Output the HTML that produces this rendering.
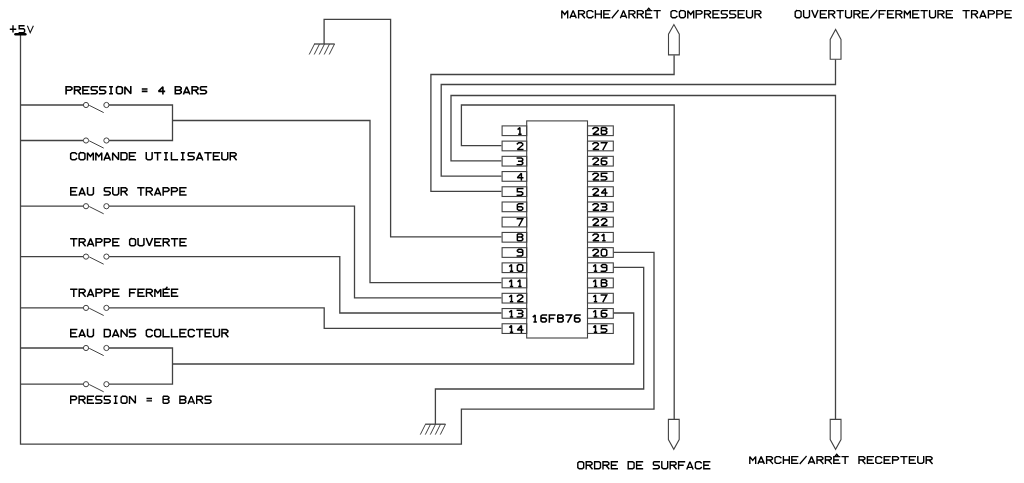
<!DOCTYPE html>
<html><head><meta charset="utf-8"><title>Schema 16F876</title>
<style>
html,body{margin:0;padding:0;background:#fff;}
body{width:1024px;height:483px;overflow:hidden;font-family:"Liberation Sans",sans-serif;}
svg{display:block;}
</style></head><body>
<svg width="1024" height="483" viewBox="0 0 1024 483">
<rect width="1024" height="483" fill="#fff"/>
<polyline points="20.5,34 20.5,444.1 461.4,444.1 461.4,409.2 654,409.2 654,252.3 613.5,252.3" fill="none" stroke="#424242" stroke-width="1.3"/>
<rect x="14.2" y="33.0" width="12.4" height="2.5" rx="1.25" fill="#000"/>
<polyline points="20.5,105 83.4,105" fill="none" stroke="#424242" stroke-width="1.3"/>
<circle cx="86.0" cy="105" r="2.6" fill="none" stroke="#424242" stroke-width="1"/>
<circle cx="106.4" cy="105" r="2.6" fill="none" stroke="#424242" stroke-width="1"/>
<polyline points="89.2,105.3 103.7,112.6" fill="none" stroke="#424242" stroke-width="1.0"/>
<polyline points="20.5,140.5 83.4,140.5" fill="none" stroke="#424242" stroke-width="1.3"/>
<circle cx="86.0" cy="140.5" r="2.6" fill="none" stroke="#424242" stroke-width="1"/>
<circle cx="106.4" cy="140.5" r="2.6" fill="none" stroke="#424242" stroke-width="1"/>
<polyline points="89.2,140.8 103.7,148.1" fill="none" stroke="#424242" stroke-width="1.0"/>
<polyline points="20.5,206.2 83.4,206.2" fill="none" stroke="#424242" stroke-width="1.3"/>
<circle cx="86.0" cy="206.2" r="2.6" fill="none" stroke="#424242" stroke-width="1"/>
<circle cx="106.4" cy="206.2" r="2.6" fill="none" stroke="#424242" stroke-width="1"/>
<polyline points="89.2,206.5 103.7,213.79999999999998" fill="none" stroke="#424242" stroke-width="1.0"/>
<polyline points="20.5,256.6 83.4,256.6" fill="none" stroke="#424242" stroke-width="1.3"/>
<circle cx="86.0" cy="256.6" r="2.6" fill="none" stroke="#424242" stroke-width="1"/>
<circle cx="106.4" cy="256.6" r="2.6" fill="none" stroke="#424242" stroke-width="1"/>
<polyline points="89.2,256.90000000000003 103.7,264.20000000000005" fill="none" stroke="#424242" stroke-width="1.0"/>
<polyline points="20.5,307.9 83.4,307.9" fill="none" stroke="#424242" stroke-width="1.3"/>
<circle cx="86.0" cy="307.9" r="2.6" fill="none" stroke="#424242" stroke-width="1"/>
<circle cx="106.4" cy="307.9" r="2.6" fill="none" stroke="#424242" stroke-width="1"/>
<polyline points="89.2,308.2 103.7,315.5" fill="none" stroke="#424242" stroke-width="1.0"/>
<polyline points="20.5,348 83.4,348" fill="none" stroke="#424242" stroke-width="1.3"/>
<circle cx="86.0" cy="348" r="2.6" fill="none" stroke="#424242" stroke-width="1"/>
<circle cx="106.4" cy="348" r="2.6" fill="none" stroke="#424242" stroke-width="1"/>
<polyline points="89.2,348.3 103.7,355.6" fill="none" stroke="#424242" stroke-width="1.0"/>
<polyline points="20.5,384.2 83.4,384.2" fill="none" stroke="#424242" stroke-width="1.3"/>
<circle cx="86.0" cy="384.2" r="2.6" fill="none" stroke="#424242" stroke-width="1"/>
<circle cx="106.4" cy="384.2" r="2.6" fill="none" stroke="#424242" stroke-width="1"/>
<polyline points="89.2,384.5 103.7,391.8" fill="none" stroke="#424242" stroke-width="1.0"/>
<polyline points="109.0,105 172.5,105 172.5,140.5 109.0,140.5" fill="none" stroke="#424242" stroke-width="1.3"/>
<polyline points="172.5,120.5 370.0,120.5 370.0,282.6 501.5,282.6" fill="none" stroke="#424242" stroke-width="1.3"/>
<polyline points="109.0,206.2 354.5,206.2 354.5,297.8 501.5,297.8" fill="none" stroke="#424242" stroke-width="1.3"/>
<polyline points="109.0,256.6 339.8,256.6 339.8,313.0 501.5,313.0" fill="none" stroke="#424242" stroke-width="1.3"/>
<polyline points="109.0,307.9 324.2,307.9 324.2,328.3 501.5,328.3" fill="none" stroke="#424242" stroke-width="1.3"/>
<polyline points="109.0,348 172.5,348 172.5,384.2 109.0,384.2" fill="none" stroke="#424242" stroke-width="1.3"/>
<polyline points="172.5,364 633.7,364 633.7,313.0 613.5,313.0" fill="none" stroke="#424242" stroke-width="1.3"/>
<polyline points="324.1,44 324.1,19.3 390.6,19.3 390.6,236.9 501.5,236.9" fill="none" stroke="#424242" stroke-width="1.3"/>
<polyline points="314,44 334.7,44" fill="none" stroke="#424242" stroke-width="1.3"/>
<polyline points="314.5,44 309.2,54.5" fill="none" stroke="#424242" stroke-width="1.0"/>
<polyline points="319.5,44 314.2,54.5" fill="none" stroke="#424242" stroke-width="1.0"/>
<polyline points="324.5,44 319.2,54.5" fill="none" stroke="#424242" stroke-width="1.0"/>
<polyline points="329.5,44 324.2,54.5" fill="none" stroke="#424242" stroke-width="1.0"/>
<polyline points="334.5,44 329.2,54.5" fill="none" stroke="#424242" stroke-width="1.0"/>
<polyline points="435.4,424.2 435.4,389 643.7,389 643.7,267.4 613.5,267.4" fill="none" stroke="#424242" stroke-width="1.3"/>
<polyline points="425.2,424.2 445.5,424.2" fill="none" stroke="#424242" stroke-width="1.3"/>
<polyline points="425.5,424.2 420.3,434.6" fill="none" stroke="#424242" stroke-width="1.0"/>
<polyline points="430.5,424.2 425.3,434.6" fill="none" stroke="#424242" stroke-width="1.0"/>
<polyline points="435.5,424.2 430.3,434.6" fill="none" stroke="#424242" stroke-width="1.0"/>
<polyline points="440.5,424.2 435.3,434.6" fill="none" stroke="#424242" stroke-width="1.0"/>
<polyline points="445.5,424.2 440.3,434.6" fill="none" stroke="#424242" stroke-width="1.0"/>
<polyline points="501.5,145.6 461.4,145.6 461.4,105 674.2,105 674.2,419.2" fill="none" stroke="#424242" stroke-width="1.3"/>
<polyline points="501.5,160.8 451,160.8 451,95.5 835.5,95.5 835.5,419.2" fill="none" stroke="#424242" stroke-width="1.3"/>
<polyline points="501.5,176.1 441.2,176.1 441.2,84.5 835.5,84.5 835.5,59.4" fill="none" stroke="#424242" stroke-width="1.3"/>
<polyline points="501.5,191.3 430.9,191.3 430.9,74.5 674.1,74.5 674.1,55.2" fill="none" stroke="#424242" stroke-width="1.3"/>
<polygon points="668.50,54.90 668.50,34.20 673.90,24.60 679.30,34.20 679.30,54.90" fill="none" stroke="#424242" stroke-width="1.1"/>
<polygon points="830.20,59.20 830.20,39.40 835.60,29.40 841.00,39.40 841.00,59.20" fill="none" stroke="#424242" stroke-width="1.1"/>
<polygon points="668.40,419.40 668.40,439.60 673.80,449.30 679.20,439.60 679.20,419.40" fill="none" stroke="#424242" stroke-width="1.1"/>
<polygon points="830.20,419.40 830.20,439.60 835.60,449.30 841.00,439.60 841.00,419.40" fill="none" stroke="#424242" stroke-width="1.1"/>
<rect x="526.7" y="120.9" width="60.8" height="217.1" fill="none" stroke="#424242" stroke-width="1.1"/>
<rect x="502.1" y="125.90" width="24.6" height="9.7" fill="none" stroke="#424242" stroke-width="1.1"/>
<rect x="587.5" y="125.90" width="25.8" height="9.7" fill="none" stroke="#424242" stroke-width="1.1"/>
<path d="M518.16,129.12 L519.92,127.55 L519.92,134.27 M518.97,134.27 L520.86,134.27" fill="none" stroke="#000" stroke-width="1.5" stroke-linejoin="miter" stroke-miterlimit="2" stroke-linecap="square"/>
<path d="M592.95,128.67 L594.30,127.55 L597.00,127.55 L598.35,128.67 L598.35,129.79 L592.95,134.27 L598.35,134.27 M602.02,127.55 L605.40,127.55 L606.75,128.67 L606.75,129.45 L605.40,130.57 L601.35,130.57 M605.40,130.57 L606.75,131.69 L606.75,133.15 L605.40,134.27 L602.02,134.27 L601.35,133.71 L601.35,128.11 L602.02,127.55" fill="none" stroke="#000" stroke-width="1.5" stroke-linejoin="miter" stroke-miterlimit="2" stroke-linecap="square"/>
<rect x="502.1" y="141.12" width="24.6" height="9.7" fill="none" stroke="#424242" stroke-width="1.1"/>
<rect x="587.5" y="141.12" width="25.8" height="9.7" fill="none" stroke="#424242" stroke-width="1.1"/>
<path d="M517.35,143.89 L518.70,142.77 L521.40,142.77 L522.75,143.89 L522.75,145.01 L517.35,149.49 L522.75,149.49" fill="none" stroke="#000" stroke-width="1.5" stroke-linejoin="miter" stroke-miterlimit="2" stroke-linecap="square"/>
<path d="M592.95,143.89 L594.30,142.77 L597.00,142.77 L598.35,143.89 L598.35,145.01 L592.95,149.49 L598.35,149.49 M601.35,142.77 L606.75,142.77 L603.11,149.49" fill="none" stroke="#000" stroke-width="1.5" stroke-linejoin="miter" stroke-miterlimit="2" stroke-linecap="square"/>
<rect x="502.1" y="156.34" width="24.6" height="9.7" fill="none" stroke="#424242" stroke-width="1.1"/>
<rect x="587.5" y="156.34" width="25.8" height="9.7" fill="none" stroke="#424242" stroke-width="1.1"/>
<path d="M517.35,157.99 L521.40,157.99 L522.75,159.11 L522.75,160.23 L521.40,161.35 L522.75,162.47 L522.75,163.59 L521.40,164.71 L517.35,164.71 M518.70,161.35 L521.40,161.35" fill="none" stroke="#000" stroke-width="1.5" stroke-linejoin="miter" stroke-miterlimit="2" stroke-linecap="square"/>
<path d="M592.95,159.11 L594.30,157.99 L597.00,157.99 L598.35,159.11 L598.35,160.23 L592.95,164.71 L598.35,164.71 M606.75,157.99 L602.70,157.99 L601.35,159.11 L601.35,163.59 L602.70,164.71 L605.40,164.71 L606.75,163.59 L606.75,162.13 L605.40,161.01 L601.35,161.01" fill="none" stroke="#000" stroke-width="1.5" stroke-linejoin="miter" stroke-miterlimit="2" stroke-linecap="square"/>
<rect x="502.1" y="171.56" width="24.6" height="9.7" fill="none" stroke="#424242" stroke-width="1.1"/>
<rect x="587.5" y="171.56" width="25.8" height="9.7" fill="none" stroke="#424242" stroke-width="1.1"/>
<path d="M521.40,179.93 L521.40,173.21 L517.35,177.69 L522.75,177.69" fill="none" stroke="#000" stroke-width="1.5" stroke-linejoin="miter" stroke-miterlimit="2" stroke-linecap="square"/>
<path d="M592.95,174.33 L594.30,173.21 L597.00,173.21 L598.35,174.33 L598.35,175.45 L592.95,179.93 L598.35,179.93 M606.75,173.21 L601.35,173.21 L601.35,176.57 L605.40,176.57 L606.75,177.69 L606.75,178.81 L605.40,179.93 L601.35,179.93" fill="none" stroke="#000" stroke-width="1.5" stroke-linejoin="miter" stroke-miterlimit="2" stroke-linecap="square"/>
<rect x="502.1" y="186.78" width="24.6" height="9.7" fill="none" stroke="#424242" stroke-width="1.1"/>
<rect x="587.5" y="186.78" width="25.8" height="9.7" fill="none" stroke="#424242" stroke-width="1.1"/>
<path d="M522.75,188.43 L517.35,188.43 L517.35,191.79 L521.40,191.79 L522.75,192.91 L522.75,194.03 L521.40,195.15 L517.35,195.15" fill="none" stroke="#000" stroke-width="1.5" stroke-linejoin="miter" stroke-miterlimit="2" stroke-linecap="square"/>
<path d="M592.95,189.55 L594.30,188.43 L597.00,188.43 L598.35,189.55 L598.35,190.67 L592.95,195.15 L598.35,195.15 M605.40,195.15 L605.40,188.43 L601.35,192.91 L606.75,192.91" fill="none" stroke="#000" stroke-width="1.5" stroke-linejoin="miter" stroke-miterlimit="2" stroke-linecap="square"/>
<rect x="502.1" y="202.00" width="24.6" height="9.7" fill="none" stroke="#424242" stroke-width="1.1"/>
<rect x="587.5" y="202.00" width="25.8" height="9.7" fill="none" stroke="#424242" stroke-width="1.1"/>
<path d="M522.75,203.65 L518.70,203.65 L517.35,204.77 L517.35,209.25 L518.70,210.37 L521.40,210.37 L522.75,209.25 L522.75,207.79 L521.40,206.67 L517.35,206.67" fill="none" stroke="#000" stroke-width="1.5" stroke-linejoin="miter" stroke-miterlimit="2" stroke-linecap="square"/>
<path d="M592.95,204.77 L594.30,203.65 L597.00,203.65 L598.35,204.77 L598.35,205.89 L592.95,210.37 L598.35,210.37 M601.35,203.65 L605.40,203.65 L606.75,204.77 L606.75,205.89 L605.40,207.01 L606.75,208.13 L606.75,209.25 L605.40,210.37 L601.35,210.37 M602.70,207.01 L605.40,207.01" fill="none" stroke="#000" stroke-width="1.5" stroke-linejoin="miter" stroke-miterlimit="2" stroke-linecap="square"/>
<rect x="502.1" y="217.22" width="24.6" height="9.7" fill="none" stroke="#424242" stroke-width="1.1"/>
<rect x="587.5" y="217.22" width="25.8" height="9.7" fill="none" stroke="#424242" stroke-width="1.1"/>
<path d="M517.35,218.87 L522.75,218.87 L519.11,225.59" fill="none" stroke="#000" stroke-width="1.5" stroke-linejoin="miter" stroke-miterlimit="2" stroke-linecap="square"/>
<path d="M592.95,219.99 L594.30,218.87 L597.00,218.87 L598.35,219.99 L598.35,221.11 L592.95,225.59 L598.35,225.59 M601.35,219.99 L602.70,218.87 L605.40,218.87 L606.75,219.99 L606.75,221.11 L601.35,225.59 L606.75,225.59" fill="none" stroke="#000" stroke-width="1.5" stroke-linejoin="miter" stroke-miterlimit="2" stroke-linecap="square"/>
<rect x="502.1" y="232.44" width="24.6" height="9.7" fill="none" stroke="#424242" stroke-width="1.1"/>
<rect x="587.5" y="232.44" width="25.8" height="9.7" fill="none" stroke="#424242" stroke-width="1.1"/>
<path d="M518.02,234.09 L521.40,234.09 L522.75,235.21 L522.75,235.99 L521.40,237.11 L517.35,237.11 M521.40,237.11 L522.75,238.23 L522.75,239.69 L521.40,240.81 L518.02,240.81 L517.35,240.25 L517.35,234.65 L518.02,234.09" fill="none" stroke="#000" stroke-width="1.5" stroke-linejoin="miter" stroke-miterlimit="2" stroke-linecap="square"/>
<path d="M592.95,235.21 L594.30,234.09 L597.00,234.09 L598.35,235.21 L598.35,236.33 L592.95,240.81 L598.35,240.81 M602.16,235.66 L603.92,234.09 L603.92,240.81 M602.97,240.81 L604.86,240.81" fill="none" stroke="#000" stroke-width="1.5" stroke-linejoin="miter" stroke-miterlimit="2" stroke-linecap="square"/>
<rect x="502.1" y="247.66" width="24.6" height="9.7" fill="none" stroke="#424242" stroke-width="1.1"/>
<rect x="587.5" y="247.66" width="25.8" height="9.7" fill="none" stroke="#424242" stroke-width="1.1"/>
<path d="M522.75,252.33 L518.70,252.33 L517.35,251.21 L517.35,250.43 L518.70,249.31 L521.40,249.31 L522.75,250.43 L522.75,254.91 L521.40,256.03 L517.35,256.03" fill="none" stroke="#000" stroke-width="1.5" stroke-linejoin="miter" stroke-miterlimit="2" stroke-linecap="square"/>
<path d="M592.95,250.43 L594.30,249.31 L597.00,249.31 L598.35,250.43 L598.35,251.55 L592.95,256.03 L598.35,256.03 M602.70,249.31 L605.40,249.31 L606.75,250.43 L606.75,254.91 L605.40,256.03 L602.70,256.03 L601.35,254.91 L601.35,250.43 L602.70,249.31" fill="none" stroke="#000" stroke-width="1.5" stroke-linejoin="miter" stroke-miterlimit="2" stroke-linecap="square"/>
<rect x="502.1" y="262.88" width="24.6" height="9.7" fill="none" stroke="#424242" stroke-width="1.1"/>
<rect x="587.5" y="262.88" width="25.8" height="9.7" fill="none" stroke="#424242" stroke-width="1.1"/>
<path d="M509.76,266.10 L511.51,264.53 L511.51,271.25 M510.57,271.25 L512.46,271.25 M518.70,264.53 L521.40,264.53 L522.75,265.65 L522.75,270.13 L521.40,271.25 L518.70,271.25 L517.35,270.13 L517.35,265.65 L518.70,264.53" fill="none" stroke="#000" stroke-width="1.5" stroke-linejoin="miter" stroke-miterlimit="2" stroke-linecap="square"/>
<path d="M593.76,266.10 L595.52,264.53 L595.52,271.25 M594.57,271.25 L596.46,271.25 M606.75,267.55 L602.70,267.55 L601.35,266.43 L601.35,265.65 L602.70,264.53 L605.40,264.53 L606.75,265.65 L606.75,270.13 L605.40,271.25 L601.35,271.25" fill="none" stroke="#000" stroke-width="1.5" stroke-linejoin="miter" stroke-miterlimit="2" stroke-linecap="square"/>
<rect x="502.1" y="278.10" width="24.6" height="9.7" fill="none" stroke="#424242" stroke-width="1.1"/>
<rect x="587.5" y="278.10" width="25.8" height="9.7" fill="none" stroke="#424242" stroke-width="1.1"/>
<path d="M509.76,281.32 L511.51,279.75 L511.51,286.47 M510.57,286.47 L512.46,286.47 M518.16,281.32 L519.92,279.75 L519.92,286.47 M518.97,286.47 L520.86,286.47" fill="none" stroke="#000" stroke-width="1.5" stroke-linejoin="miter" stroke-miterlimit="2" stroke-linecap="square"/>
<path d="M593.76,281.32 L595.52,279.75 L595.52,286.47 M594.57,286.47 L596.46,286.47 M602.02,279.75 L605.40,279.75 L606.75,280.87 L606.75,281.65 L605.40,282.77 L601.35,282.77 M605.40,282.77 L606.75,283.89 L606.75,285.35 L605.40,286.47 L602.02,286.47 L601.35,285.91 L601.35,280.31 L602.02,279.75" fill="none" stroke="#000" stroke-width="1.5" stroke-linejoin="miter" stroke-miterlimit="2" stroke-linecap="square"/>
<rect x="502.1" y="293.32" width="24.6" height="9.7" fill="none" stroke="#424242" stroke-width="1.1"/>
<rect x="587.5" y="293.32" width="25.8" height="9.7" fill="none" stroke="#424242" stroke-width="1.1"/>
<path d="M509.76,296.54 L511.51,294.97 L511.51,301.69 M510.57,301.69 L512.46,301.69 M517.35,296.09 L518.70,294.97 L521.40,294.97 L522.75,296.09 L522.75,297.21 L517.35,301.69 L522.75,301.69" fill="none" stroke="#000" stroke-width="1.5" stroke-linejoin="miter" stroke-miterlimit="2" stroke-linecap="square"/>
<path d="M593.76,296.54 L595.52,294.97 L595.52,301.69 M594.57,301.69 L596.46,301.69 M601.35,294.97 L606.75,294.97 L603.11,301.69" fill="none" stroke="#000" stroke-width="1.5" stroke-linejoin="miter" stroke-miterlimit="2" stroke-linecap="square"/>
<rect x="502.1" y="308.54" width="24.6" height="9.7" fill="none" stroke="#424242" stroke-width="1.1"/>
<rect x="587.5" y="308.54" width="25.8" height="9.7" fill="none" stroke="#424242" stroke-width="1.1"/>
<path d="M509.76,311.76 L511.51,310.19 L511.51,316.91 M510.57,316.91 L512.46,316.91 M517.35,310.19 L521.40,310.19 L522.75,311.31 L522.75,312.43 L521.40,313.55 L522.75,314.67 L522.75,315.79 L521.40,316.91 L517.35,316.91 M518.70,313.55 L521.40,313.55" fill="none" stroke="#000" stroke-width="1.5" stroke-linejoin="miter" stroke-miterlimit="2" stroke-linecap="square"/>
<path d="M593.76,311.76 L595.52,310.19 L595.52,316.91 M594.57,316.91 L596.46,316.91 M606.75,310.19 L602.70,310.19 L601.35,311.31 L601.35,315.79 L602.70,316.91 L605.40,316.91 L606.75,315.79 L606.75,314.33 L605.40,313.21 L601.35,313.21" fill="none" stroke="#000" stroke-width="1.5" stroke-linejoin="miter" stroke-miterlimit="2" stroke-linecap="square"/>
<rect x="502.1" y="323.76" width="24.6" height="9.7" fill="none" stroke="#424242" stroke-width="1.1"/>
<rect x="587.5" y="323.76" width="25.8" height="9.7" fill="none" stroke="#424242" stroke-width="1.1"/>
<path d="M509.76,326.98 L511.51,325.41 L511.51,332.13 M510.57,332.13 L512.46,332.13 M521.40,332.13 L521.40,325.41 L517.35,329.89 L522.75,329.89" fill="none" stroke="#000" stroke-width="1.5" stroke-linejoin="miter" stroke-miterlimit="2" stroke-linecap="square"/>
<path d="M593.76,326.98 L595.52,325.41 L595.52,332.13 M594.57,332.13 L596.46,332.13 M606.75,325.41 L601.35,325.41 L601.35,328.77 L605.40,328.77 L606.75,329.89 L606.75,331.01 L605.40,332.13 L601.35,332.13" fill="none" stroke="#000" stroke-width="1.5" stroke-linejoin="miter" stroke-miterlimit="2" stroke-linecap="square"/>
<path d="M533.38,316.60 L535.14,314.97 L535.14,321.93 M534.19,321.93 L536.08,321.93 M546.37,314.97 L542.32,314.97 L540.97,316.13 L540.97,320.77 L542.32,321.93 L545.02,321.93 L546.37,320.77 L546.37,319.27 L545.02,318.11 L540.97,318.11 M554.77,314.97 L549.37,314.97 L549.37,321.93 M549.37,318.45 L553.42,318.45 M558.45,314.97 L561.82,314.97 L563.17,316.13 L563.17,316.95 L561.82,318.11 L557.77,318.11 M561.82,318.11 L563.17,319.27 L563.17,320.77 L561.82,321.93 L558.45,321.93 L557.77,321.35 L557.77,315.55 L558.45,314.97 M566.17,314.97 L571.57,314.97 L567.93,321.93 M579.97,314.97 L575.92,314.97 L574.57,316.13 L574.57,320.77 L575.92,321.93 L578.62,321.93 L579.97,320.77 L579.97,319.27 L578.62,318.11 L574.57,318.11" fill="none" stroke="#000" stroke-width="1.55" stroke-linejoin="miter" stroke-miterlimit="2" stroke-linecap="square"/>
<path d="M66.10,93.78 L66.10,86.70 L70.51,86.70 L71.98,87.88 L71.98,89.06 L70.51,90.24 L66.10,90.24 M74.50,93.78 L74.50,86.70 L78.91,86.70 L80.38,87.88 L80.38,89.06 L78.91,90.24 L74.50,90.24 M77.44,90.24 L80.38,93.78 M88.78,86.70 L82.90,86.70 L82.90,93.78 L88.78,93.78 M82.90,90.24 L87.31,90.24 M97.18,86.70 L92.03,86.70 L91.30,87.29 L91.30,89.53 L92.18,90.24 L95.71,90.24 L97.18,91.42 L97.18,92.60 L95.71,93.78 L91.30,93.78 M105.58,86.70 L100.43,86.70 L99.70,87.29 L99.70,89.53 L100.58,90.24 L104.11,90.24 L105.58,91.42 L105.58,92.60 L104.11,93.78 L99.70,93.78 M109.86,86.70 L112.22,86.70 M111.04,86.70 L111.04,93.78 M109.86,93.78 L112.22,93.78 M117.97,86.70 L120.91,86.70 L122.38,87.88 L122.38,92.60 L120.91,93.78 L117.97,93.78 L116.50,92.60 L116.50,87.88 L117.97,86.70 M124.90,93.78 L124.90,86.70 L130.78,93.78 L130.78,86.70 M142.58,89.06 L146.70,89.06 M142.58,91.42 L146.70,91.42 M162.91,93.78 L162.91,86.70 L158.50,91.42 L164.38,91.42 M175.30,86.70 L179.71,86.70 L181.18,87.88 L181.18,89.06 L179.71,90.24 L175.30,90.24 M179.71,90.24 L181.18,91.42 L181.18,92.60 L179.71,93.78 L175.30,93.78 L175.30,86.70 M183.70,93.78 L186.64,86.70 L189.58,93.78 M184.29,92.36 L188.99,92.36 M192.10,93.78 L192.10,86.70 L196.51,86.70 L197.98,87.88 L197.98,89.06 L196.51,90.24 L192.10,90.24 M195.04,90.24 L197.98,93.78 M206.38,86.70 L201.24,86.70 L200.50,87.29 L200.50,89.53 L201.38,90.24 L204.91,90.24 L206.38,91.42 L206.38,92.60 L204.91,93.78 L200.50,93.78" fill="none" stroke="#000" stroke-width="1.6" stroke-linejoin="miter" stroke-miterlimit="2" stroke-linecap="square"/>
<path d="M76.53,153.83 L75.06,152.65 L72.12,152.65 L70.65,153.83 L70.65,158.55 L72.12,159.73 L75.06,159.73 L76.53,158.55 M80.52,152.65 L83.46,152.65 L84.93,153.83 L84.93,158.55 L83.46,159.73 L80.52,159.73 L79.05,158.55 L79.05,153.83 L80.52,152.65 M87.45,159.73 L87.45,152.65 L90.39,156.54 L93.33,152.65 L93.33,159.73 M95.85,159.73 L95.85,152.65 L98.79,156.54 L101.73,152.65 L101.73,159.73 M104.25,159.73 L107.19,152.65 L110.13,159.73 M104.84,158.31 L109.54,158.31 M112.65,159.73 L112.65,152.65 L118.53,159.73 L118.53,152.65 M121.05,152.65 L125.46,152.65 L126.93,153.83 L126.93,158.55 L125.46,159.73 L121.05,159.73 L121.05,152.65 M135.33,152.65 L129.45,152.65 L129.45,159.73 L135.33,159.73 M129.45,156.19 L133.86,156.19 M146.25,152.65 L146.25,158.55 L147.72,159.73 L150.66,159.73 L152.13,158.55 L152.13,152.65 M154.65,152.65 L160.53,152.65 M157.59,152.65 L157.59,159.73 M164.81,152.65 L167.17,152.65 M165.99,152.65 L165.99,159.73 M164.81,159.73 L167.17,159.73 M171.45,152.65 L171.45,159.73 L177.33,159.73 M181.61,152.65 L183.97,152.65 M182.79,152.65 L182.79,159.73 M181.61,159.73 L183.97,159.73 M194.13,152.65 L188.99,152.65 L188.25,153.24 L188.25,155.48 L189.13,156.19 L192.66,156.19 L194.13,157.37 L194.13,158.55 L192.66,159.73 L188.25,159.73 M196.65,159.73 L199.59,152.65 L202.53,159.73 M197.24,158.31 L201.94,158.31 M205.05,152.65 L210.93,152.65 M207.99,152.65 L207.99,159.73 M219.33,152.65 L213.45,152.65 L213.45,159.73 L219.33,159.73 M213.45,156.19 L217.86,156.19 M221.85,152.65 L221.85,158.55 L223.32,159.73 L226.26,159.73 L227.73,158.55 L227.73,152.65 M230.25,159.73 L230.25,152.65 L234.66,152.65 L236.13,153.83 L236.13,155.01 L234.66,156.19 L230.25,156.19 M233.19,156.19 L236.13,159.73" fill="none" stroke="#000" stroke-width="1.5" stroke-linejoin="miter" stroke-miterlimit="2" stroke-linecap="square"/>
<path d="M76.63,187.85 L70.75,187.85 L70.75,194.93 L76.63,194.93 M70.75,191.39 L75.16,191.39 M79.15,194.93 L82.09,187.85 L85.03,194.93 M79.74,193.51 L84.44,193.51 M87.55,187.85 L87.55,193.75 L89.02,194.93 L91.96,194.93 L93.43,193.75 L93.43,187.85 M110.23,187.85 L105.08,187.85 L104.35,188.44 L104.35,190.68 L105.23,191.39 L108.76,191.39 L110.23,192.57 L110.23,193.75 L108.76,194.93 L104.35,194.93 M112.75,187.85 L112.75,193.75 L114.22,194.93 L117.16,194.93 L118.63,193.75 L118.63,187.85 M121.15,194.93 L121.15,187.85 L125.56,187.85 L127.03,189.03 L127.03,190.21 L125.56,191.39 L121.15,191.39 M124.09,191.39 L127.03,194.93 M137.95,187.85 L143.83,187.85 M140.89,187.85 L140.89,194.93 M146.35,194.93 L146.35,187.85 L150.76,187.85 L152.23,189.03 L152.23,190.21 L150.76,191.39 L146.35,191.39 M149.29,191.39 L152.23,194.93 M154.75,194.93 L157.69,187.85 L160.63,194.93 M155.34,193.51 L160.04,193.51 M163.15,194.93 L163.15,187.85 L167.56,187.85 L169.03,189.03 L169.03,190.21 L167.56,191.39 L163.15,191.39 M171.55,194.93 L171.55,187.85 L175.96,187.85 L177.43,189.03 L177.43,190.21 L175.96,191.39 L171.55,191.39 M185.83,187.85 L179.95,187.85 L179.95,194.93 L185.83,194.93 M179.95,191.39 L184.36,191.39" fill="none" stroke="#000" stroke-width="1.5" stroke-linejoin="miter" stroke-miterlimit="2" stroke-linecap="square"/>
<path d="M70.85,238.65 L76.73,238.65 M73.79,238.65 L73.79,245.73 M79.25,245.73 L79.25,238.65 L83.66,238.65 L85.13,239.83 L85.13,241.01 L83.66,242.19 L79.25,242.19 M82.19,242.19 L85.13,245.73 M87.65,245.73 L90.59,238.65 L93.53,245.73 M88.24,244.31 L92.94,244.31 M96.05,245.73 L96.05,238.65 L100.46,238.65 L101.93,239.83 L101.93,241.01 L100.46,242.19 L96.05,242.19 M104.45,245.73 L104.45,238.65 L108.86,238.65 L110.33,239.83 L110.33,241.01 L108.86,242.19 L104.45,242.19 M118.73,238.65 L112.85,238.65 L112.85,245.73 L118.73,245.73 M112.85,242.19 L117.26,242.19 M131.12,238.65 L134.06,238.65 L135.53,239.83 L135.53,244.55 L134.06,245.73 L131.12,245.73 L129.65,244.55 L129.65,239.83 L131.12,238.65 M138.05,238.65 L138.05,244.55 L139.52,245.73 L142.46,245.73 L143.93,244.55 L143.93,238.65 M146.45,238.65 L149.39,245.73 L152.33,238.65 M160.73,238.65 L154.85,238.65 L154.85,245.73 L160.73,245.73 M154.85,242.19 L159.26,242.19 M163.25,245.73 L163.25,238.65 L167.66,238.65 L169.13,239.83 L169.13,241.01 L167.66,242.19 L163.25,242.19 M166.19,242.19 L169.13,245.73 M171.65,238.65 L177.53,238.65 M174.59,238.65 L174.59,245.73 M185.93,238.65 L180.05,238.65 L180.05,245.73 L185.93,245.73 M180.05,242.19 L184.46,242.19" fill="none" stroke="#000" stroke-width="1.5" stroke-linejoin="miter" stroke-miterlimit="2" stroke-linecap="square"/>
<path d="M70.85,289.15 L76.73,289.15 M73.79,289.15 L73.79,296.23 M79.25,296.23 L79.25,289.15 L83.66,289.15 L85.13,290.33 L85.13,291.51 L83.66,292.69 L79.25,292.69 M82.19,292.69 L85.13,296.23 M87.65,296.23 L90.59,289.15 L93.53,296.23 M88.24,294.81 L92.94,294.81 M96.05,296.23 L96.05,289.15 L100.46,289.15 L101.93,290.33 L101.93,291.51 L100.46,292.69 L96.05,292.69 M104.45,296.23 L104.45,289.15 L108.86,289.15 L110.33,290.33 L110.33,291.51 L108.86,292.69 L104.45,292.69 M118.73,289.15 L112.85,289.15 L112.85,296.23 L118.73,296.23 M112.85,292.69 L117.26,292.69 M135.53,289.15 L129.65,289.15 L129.65,296.23 M129.65,292.69 L134.06,292.69 M143.93,289.15 L138.05,289.15 L138.05,296.23 L143.93,296.23 M138.05,292.69 L142.46,292.69 M146.45,296.23 L146.45,289.15 L150.86,289.15 L152.33,290.33 L152.33,291.51 L150.86,292.69 L146.45,292.69 M149.39,292.69 L152.33,296.23 M154.85,296.23 L154.85,289.15 L157.79,293.04 L160.73,289.15 L160.73,296.23 M169.13,289.15 L163.25,289.15 L163.25,296.23 L169.13,296.23 M163.25,292.69 L167.66,292.69 M166.04,288.44 L166.93,287.38 M177.53,289.15 L171.65,289.15 L171.65,296.23 L177.53,296.23 M171.65,292.69 L176.06,292.69" fill="none" stroke="#000" stroke-width="1.5" stroke-linejoin="miter" stroke-miterlimit="2" stroke-linecap="square"/>
<path d="M76.63,329.55 L70.75,329.55 L70.75,336.63 L76.63,336.63 M70.75,333.09 L75.16,333.09 M79.15,336.63 L82.09,329.55 L85.03,336.63 M79.74,335.21 L84.44,335.21 M87.55,329.55 L87.55,335.45 L89.02,336.63 L91.96,336.63 L93.43,335.45 L93.43,329.55 M104.35,329.55 L108.76,329.55 L110.23,330.73 L110.23,335.45 L108.76,336.63 L104.35,336.63 L104.35,329.55 M112.75,336.63 L115.69,329.55 L118.63,336.63 M113.34,335.21 L118.04,335.21 M121.15,336.63 L121.15,329.55 L127.03,336.63 L127.03,329.55 M135.43,329.55 L130.29,329.55 L129.55,330.14 L129.55,332.38 L130.43,333.09 L133.96,333.09 L135.43,334.27 L135.43,335.45 L133.96,336.63 L129.55,336.63 M152.23,330.73 L150.76,329.55 L147.82,329.55 L146.35,330.73 L146.35,335.45 L147.82,336.63 L150.76,336.63 L152.23,335.45 M156.22,329.55 L159.16,329.55 L160.63,330.73 L160.63,335.45 L159.16,336.63 L156.22,336.63 L154.75,335.45 L154.75,330.73 L156.22,329.55 M163.15,329.55 L163.15,336.63 L169.03,336.63 M171.55,329.55 L171.55,336.63 L177.43,336.63 M185.83,329.55 L179.95,329.55 L179.95,336.63 L185.83,336.63 M179.95,333.09 L184.36,333.09 M194.23,330.73 L192.76,329.55 L189.82,329.55 L188.35,330.73 L188.35,335.45 L189.82,336.63 L192.76,336.63 L194.23,335.45 M196.75,329.55 L202.63,329.55 M199.69,329.55 L199.69,336.63 M211.03,329.55 L205.15,329.55 L205.15,336.63 L211.03,336.63 M205.15,333.09 L209.56,333.09 M213.55,329.55 L213.55,335.45 L215.02,336.63 L217.96,336.63 L219.43,335.45 L219.43,329.55 M221.95,336.63 L221.95,329.55 L226.36,329.55 L227.83,330.73 L227.83,331.91 L226.36,333.09 L221.95,333.09 M224.89,333.09 L227.83,336.63" fill="none" stroke="#000" stroke-width="1.5" stroke-linejoin="miter" stroke-miterlimit="2" stroke-linecap="square"/>
<path d="M70.70,403.28 L70.70,396.20 L75.11,396.20 L76.58,397.38 L76.58,398.56 L75.11,399.74 L70.70,399.74 M79.10,403.28 L79.10,396.20 L83.51,396.20 L84.98,397.38 L84.98,398.56 L83.51,399.74 L79.10,399.74 M82.04,399.74 L84.98,403.28 M93.38,396.20 L87.50,396.20 L87.50,403.28 L93.38,403.28 M87.50,399.74 L91.91,399.74 M101.78,396.20 L96.64,396.20 L95.90,396.79 L95.90,399.03 L96.78,399.74 L100.31,399.74 L101.78,400.92 L101.78,402.10 L100.31,403.28 L95.90,403.28 M110.18,396.20 L105.04,396.20 L104.30,396.79 L104.30,399.03 L105.18,399.74 L108.71,399.74 L110.18,400.92 L110.18,402.10 L108.71,403.28 L104.30,403.28 M114.46,396.20 L116.82,396.20 M115.64,396.20 L115.64,403.28 M114.46,403.28 L116.82,403.28 M122.57,396.20 L125.51,396.20 L126.98,397.38 L126.98,402.10 L125.51,403.28 L122.57,403.28 L121.10,402.10 L121.10,397.38 L122.57,396.20 M129.50,403.28 L129.50,396.20 L135.38,403.28 L135.38,396.20 M147.18,398.56 L151.30,398.56 M147.18,400.92 L151.30,400.92 M163.84,396.20 L167.51,396.20 L168.98,397.38 L168.98,398.21 L167.51,399.39 L163.10,399.39 M167.51,399.39 L168.98,400.57 L168.98,402.10 L167.51,403.28 L163.84,403.28 L163.10,402.69 L163.10,396.79 L163.84,396.20 M179.90,396.20 L184.31,396.20 L185.78,397.38 L185.78,398.56 L184.31,399.74 L179.90,399.74 M184.31,399.74 L185.78,400.92 L185.78,402.10 L184.31,403.28 L179.90,403.28 L179.90,396.20 M188.30,403.28 L191.24,396.20 L194.18,403.28 M188.89,401.86 L193.59,401.86 M196.70,403.28 L196.70,396.20 L201.11,396.20 L202.58,397.38 L202.58,398.56 L201.11,399.74 L196.70,399.74 M199.64,399.74 L202.58,403.28 M210.98,396.20 L205.84,396.20 L205.10,396.79 L205.10,399.03 L205.98,399.74 L209.51,399.74 L210.98,400.92 L210.98,402.10 L209.51,403.28 L205.10,403.28" fill="none" stroke="#000" stroke-width="1.4" stroke-linejoin="miter" stroke-miterlimit="2" stroke-linecap="square"/>
<path d="M561.80,17.68 L561.80,10.60 L564.74,14.49 L567.68,10.60 L567.68,17.68 M570.20,17.68 L573.14,10.60 L576.08,17.68 M570.79,16.26 L575.49,16.26 M578.60,17.68 L578.60,10.60 L583.01,10.60 L584.48,11.78 L584.48,12.96 L583.01,14.14 L578.60,14.14 M581.54,14.14 L584.48,17.68 M592.88,11.78 L591.41,10.60 L588.47,10.60 L587.00,11.78 L587.00,16.50 L588.47,17.68 L591.41,17.68 L592.88,16.50 M595.40,10.60 L595.40,17.68 M601.28,10.60 L601.28,17.68 M595.40,14.14 L601.28,14.14 M609.68,10.60 L603.80,10.60 L603.80,17.68 L609.68,17.68 M603.80,14.14 L608.21,14.14 M612.20,17.68 L618.08,10.60 M620.60,17.68 L623.54,10.60 L626.48,17.68 M621.19,16.26 L625.89,16.26 M629.00,17.68 L629.00,10.60 L633.41,10.60 L634.88,11.78 L634.88,12.96 L633.41,14.14 L629.00,14.14 M631.94,14.14 L634.88,17.68 M637.40,17.68 L637.40,10.60 L641.81,10.60 L643.28,11.78 L643.28,12.96 L641.81,14.14 L637.40,14.14 M640.34,14.14 L643.28,17.68 M651.68,10.60 L645.80,10.60 L645.80,17.68 L651.68,17.68 M645.80,14.14 L650.21,14.14 M647.56,9.66 L648.74,8.24 L649.92,9.66 M654.20,10.60 L660.08,10.60 M657.14,10.60 L657.14,17.68 M676.88,11.78 L675.41,10.60 L672.47,10.60 L671.00,11.78 L671.00,16.50 L672.47,17.68 L675.41,17.68 L676.88,16.50 M680.87,10.60 L683.81,10.60 L685.28,11.78 L685.28,16.50 L683.81,17.68 L680.87,17.68 L679.40,16.50 L679.40,11.78 L680.87,10.60 M687.80,17.68 L687.80,10.60 L690.74,14.49 L693.68,10.60 L693.68,17.68 M696.20,17.68 L696.20,10.60 L700.61,10.60 L702.08,11.78 L702.08,12.96 L700.61,14.14 L696.20,14.14 M704.60,17.68 L704.60,10.60 L709.01,10.60 L710.48,11.78 L710.48,12.96 L709.01,14.14 L704.60,14.14 M707.54,14.14 L710.48,17.68 M718.88,10.60 L713.00,10.60 L713.00,17.68 L718.88,17.68 M713.00,14.14 L717.41,14.14 M727.28,10.60 L722.14,10.60 L721.40,11.19 L721.40,13.43 L722.28,14.14 L725.81,14.14 L727.28,15.32 L727.28,16.50 L725.81,17.68 L721.40,17.68 M735.68,10.60 L730.54,10.60 L729.80,11.19 L729.80,13.43 L730.68,14.14 L734.21,14.14 L735.68,15.32 L735.68,16.50 L734.21,17.68 L729.80,17.68 M744.08,10.60 L738.20,10.60 L738.20,17.68 L744.08,17.68 M738.20,14.14 L742.61,14.14 M746.60,10.60 L746.60,16.50 L748.07,17.68 L751.01,17.68 L752.48,16.50 L752.48,10.60 M755.00,17.68 L755.00,10.60 L759.41,10.60 L760.88,11.78 L760.88,12.96 L759.41,14.14 L755.00,14.14 M757.94,14.14 L760.88,17.68" fill="none" stroke="#000" stroke-width="1.4" stroke-linejoin="miter" stroke-miterlimit="2" stroke-linecap="square"/>
<path d="M796.67,10.60 L799.61,10.60 L801.08,11.78 L801.08,16.50 L799.61,17.68 L796.67,17.68 L795.20,16.50 L795.20,11.78 L796.67,10.60 M803.60,10.60 L803.60,16.50 L805.07,17.68 L808.01,17.68 L809.48,16.50 L809.48,10.60 M812.00,10.60 L814.94,17.68 L817.88,10.60 M826.28,10.60 L820.40,10.60 L820.40,17.68 L826.28,17.68 M820.40,14.14 L824.81,14.14 M828.80,17.68 L828.80,10.60 L833.21,10.60 L834.68,11.78 L834.68,12.96 L833.21,14.14 L828.80,14.14 M831.74,14.14 L834.68,17.68 M837.20,10.60 L843.08,10.60 M840.14,10.60 L840.14,17.68 M845.60,10.60 L845.60,16.50 L847.07,17.68 L850.01,17.68 L851.48,16.50 L851.48,10.60 M854.00,17.68 L854.00,10.60 L858.41,10.60 L859.88,11.78 L859.88,12.96 L858.41,14.14 L854.00,14.14 M856.94,14.14 L859.88,17.68 M868.28,10.60 L862.40,10.60 L862.40,17.68 L868.28,17.68 M862.40,14.14 L866.81,14.14 M870.80,17.68 L876.68,10.60 M885.08,10.60 L879.20,10.60 L879.20,17.68 M879.20,14.14 L883.61,14.14 M893.48,10.60 L887.60,10.60 L887.60,17.68 L893.48,17.68 M887.60,14.14 L892.01,14.14 M896.00,17.68 L896.00,10.60 L900.41,10.60 L901.88,11.78 L901.88,12.96 L900.41,14.14 L896.00,14.14 M898.94,14.14 L901.88,17.68 M904.40,17.68 L904.40,10.60 L907.34,14.49 L910.28,10.60 L910.28,17.68 M918.68,10.60 L912.80,10.60 L912.80,17.68 L918.68,17.68 M912.80,14.14 L917.21,14.14 M921.20,10.60 L927.08,10.60 M924.14,10.60 L924.14,17.68 M929.60,10.60 L929.60,16.50 L931.07,17.68 L934.01,17.68 L935.48,16.50 L935.48,10.60 M938.00,17.68 L938.00,10.60 L942.41,10.60 L943.88,11.78 L943.88,12.96 L942.41,14.14 L938.00,14.14 M940.94,14.14 L943.88,17.68 M952.28,10.60 L946.40,10.60 L946.40,17.68 L952.28,17.68 M946.40,14.14 L950.81,14.14 M963.20,10.60 L969.08,10.60 M966.14,10.60 L966.14,17.68 M971.60,17.68 L971.60,10.60 L976.01,10.60 L977.48,11.78 L977.48,12.96 L976.01,14.14 L971.60,14.14 M974.54,14.14 L977.48,17.68 M980.00,17.68 L982.94,10.60 L985.88,17.68 M980.59,16.26 L985.29,16.26 M988.40,17.68 L988.40,10.60 L992.81,10.60 L994.28,11.78 L994.28,12.96 L992.81,14.14 L988.40,14.14 M996.80,17.68 L996.80,10.60 L1001.21,10.60 L1002.68,11.78 L1002.68,12.96 L1001.21,14.14 L996.80,14.14 M1011.08,10.60 L1005.20,10.60 L1005.20,17.68 L1011.08,17.68 M1005.20,14.14 L1009.61,14.14" fill="none" stroke="#000" stroke-width="1.4" stroke-linejoin="miter" stroke-miterlimit="2" stroke-linecap="square"/>
<path d="M579.27,461.70 L582.21,461.70 L583.68,462.88 L583.68,467.60 L582.21,468.78 L579.27,468.78 L577.80,467.60 L577.80,462.88 L579.27,461.70 M586.20,468.78 L586.20,461.70 L590.61,461.70 L592.08,462.88 L592.08,464.06 L590.61,465.24 L586.20,465.24 M589.14,465.24 L592.08,468.78 M594.60,461.70 L599.01,461.70 L600.48,462.88 L600.48,467.60 L599.01,468.78 L594.60,468.78 L594.60,461.70 M603.00,468.78 L603.00,461.70 L607.41,461.70 L608.88,462.88 L608.88,464.06 L607.41,465.24 L603.00,465.24 M605.94,465.24 L608.88,468.78 M617.28,461.70 L611.40,461.70 L611.40,468.78 L617.28,468.78 M611.40,465.24 L615.81,465.24 M628.20,461.70 L632.61,461.70 L634.08,462.88 L634.08,467.60 L632.61,468.78 L628.20,468.78 L628.20,461.70 M642.48,461.70 L636.60,461.70 L636.60,468.78 L642.48,468.78 M636.60,465.24 L641.01,465.24 M659.28,461.70 L654.14,461.70 L653.40,462.29 L653.40,464.53 L654.28,465.24 L657.81,465.24 L659.28,466.42 L659.28,467.60 L657.81,468.78 L653.40,468.78 M661.80,461.70 L661.80,467.60 L663.27,468.78 L666.21,468.78 L667.68,467.60 L667.68,461.70 M670.20,468.78 L670.20,461.70 L674.61,461.70 L676.08,462.88 L676.08,464.06 L674.61,465.24 L670.20,465.24 M673.14,465.24 L676.08,468.78 M684.48,461.70 L678.60,461.70 L678.60,468.78 M678.60,465.24 L683.01,465.24 M687.00,468.78 L689.94,461.70 L692.88,468.78 M687.59,467.36 L692.29,467.36 M701.28,462.88 L699.81,461.70 L696.87,461.70 L695.40,462.88 L695.40,467.60 L696.87,468.78 L699.81,468.78 L701.28,467.60 M709.68,461.70 L703.80,461.70 L703.80,468.78 L709.68,468.78 M703.80,465.24 L708.21,465.24" fill="none" stroke="#000" stroke-width="1.4" stroke-linejoin="miter" stroke-miterlimit="2" stroke-linecap="square"/>
<path d="M749.80,463.40 L749.80,456.60 L752.74,460.34 L755.68,456.60 L755.68,463.40 M758.20,463.40 L761.14,456.60 L764.08,463.40 M758.79,462.04 L763.49,462.04 M766.60,463.40 L766.60,456.60 L771.01,456.60 L772.48,457.73 L772.48,458.87 L771.01,460.00 L766.60,460.00 M769.54,460.00 L772.48,463.40 M780.88,457.73 L779.41,456.60 L776.47,456.60 L775.00,457.73 L775.00,462.26 L776.47,463.40 L779.41,463.40 L780.88,462.26 M783.40,456.60 L783.40,463.40 M789.28,456.60 L789.28,463.40 M783.40,460.00 L789.28,460.00 M797.68,456.60 L791.80,456.60 L791.80,463.40 L797.68,463.40 M791.80,460.00 L796.21,460.00 M800.20,463.40 L806.08,456.60 M808.60,463.40 L811.54,456.60 L814.48,463.40 M809.19,462.04 L813.89,462.04 M817.00,463.40 L817.00,456.60 L821.41,456.60 L822.88,457.73 L822.88,458.87 L821.41,460.00 L817.00,460.00 M819.94,460.00 L822.88,463.40 M825.40,463.40 L825.40,456.60 L829.81,456.60 L831.28,457.73 L831.28,458.87 L829.81,460.00 L825.40,460.00 M828.34,460.00 L831.28,463.40 M839.68,456.60 L833.80,456.60 L833.80,463.40 L839.68,463.40 M833.80,460.00 L838.21,460.00 M835.56,455.69 L836.74,454.33 L837.92,455.69 M842.20,456.60 L848.08,456.60 M845.14,456.60 L845.14,463.40 M859.00,463.40 L859.00,456.60 L863.41,456.60 L864.88,457.73 L864.88,458.87 L863.41,460.00 L859.00,460.00 M861.94,460.00 L864.88,463.40 M873.28,456.60 L867.40,456.60 L867.40,463.40 L873.28,463.40 M867.40,460.00 L871.81,460.00 M881.68,457.73 L880.21,456.60 L877.27,456.60 L875.80,457.73 L875.80,462.26 L877.27,463.40 L880.21,463.40 L881.68,462.26 M890.08,456.60 L884.20,456.60 L884.20,463.40 L890.08,463.40 M884.20,460.00 L888.61,460.00 M892.60,463.40 L892.60,456.60 L897.01,456.60 L898.48,457.73 L898.48,458.87 L897.01,460.00 L892.60,460.00 M901.00,456.60 L906.88,456.60 M903.94,456.60 L903.94,463.40 M915.28,456.60 L909.40,456.60 L909.40,463.40 L915.28,463.40 M909.40,460.00 L913.81,460.00 M917.80,456.60 L917.80,462.26 L919.27,463.40 L922.21,463.40 L923.68,462.26 L923.68,456.60 M926.20,463.40 L926.20,456.60 L930.61,456.60 L932.08,457.73 L932.08,458.87 L930.61,460.00 L926.20,460.00 M929.14,460.00 L932.08,463.40" fill="none" stroke="#000" stroke-width="1.4" stroke-linejoin="miter" stroke-miterlimit="2" stroke-linecap="square"/>
<path d="M9.8,29.3 L16.3,29.3 M13,25.3 L13,32.6" stroke="#000" stroke-width="1.4" fill="none"/>
<path d="M24.6,25.8 L19.2,25.8 L19.2,28.8 L23.6,28.8 L24.6,29.8 L24.6,31.8 L23.6,32.6 L18.6,32.6" stroke="#000" stroke-width="1.4" fill="none"/>
<path d="M27.4,25.7 L30.2,32.7 L33.4,25.7" stroke="#111" stroke-width="1.1" fill="none"/>
</svg>
</body></html>
